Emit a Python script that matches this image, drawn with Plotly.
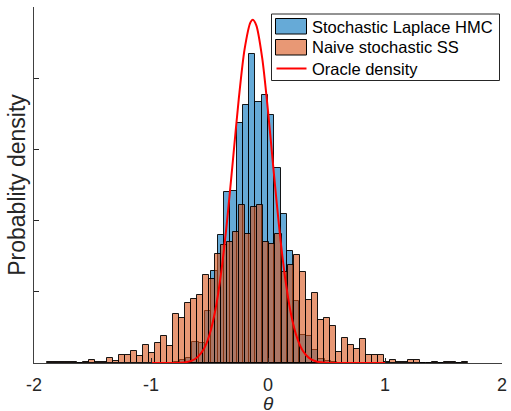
import plotly.graph_objects as go

# ---------------- data ----------------
# Orange histogram: "Naive stochastic SS" (pdf-normalised), 70 bins
ss_bin_start = -1.893
ss_bin_width = 0.0515
ss_density = [
    0.007, 0.007, 0.007, 0.007, 0.007, 0.002, 0.009, 0.019, 0.005, 0.007,
    0.037, 0.016, 0.056, 0.056, 0.084, 0.051, 0.126, 0.070, 0.138, 0.189,
    0.119, 0.344, 0.318, 0.419, 0.449, 0.477, 0.617, 0.589, 0.768, 0.827,
    0.849, 0.919, 1.108, 0.905, 1.098, 1.108, 0.851, 0.835, 0.907, 0.638,
    0.687, 0.759, 0.638, 0.440, 0.491, 0.299, 0.318, 0.259, 0.079, 0.177,
    0.126, 0.100, 0.168, 0.056, 0.056, 0.056, 0.009, 0.021, 0.005, 0.005,
    0.019, 0.019, 0.002, 0.002, 0.007, 0.002, 0.007, 0.007, 0.002, 0.007,
]

# Blue histogram: "Stochastic Laplace HMC" (pdf-normalised), 27 bins
hmc_bin_start = -0.807
hmc_bin_width = 0.0538
hmc_density = [
    0.005, 0.023, 0.034, 0.147, 0.138, 0.368, 0.647, 0.896, 1.199, 1.208,
    1.688, 1.809, 2.170, 1.830, 1.879, 1.739, 1.367, 1.048, 0.785, 0.435,
    0.198, 0.189, 0.091, 0.026, 0.012, 0.005, 0.002,
]

# Red curve: "Oracle density"
oracle_theta = [-1.0, -0.9, -0.8, -0.75, -0.7, -0.65, -0.6, -0.55, -0.5, -0.45,
                -0.4, -0.35, -0.3, -0.25, -0.2, -0.15, -0.13, -0.1, -0.05, 0.0,
                0.05, 0.1, 0.15, 0.2, 0.25, 0.3, 0.35, 0.4, 0.45, 0.5,
                0.6, 0.8, 1.0]
oracle_density = [0.0, 0.0, 0.0, 0.002, 0.006, 0.017, 0.043, 0.096, 0.198, 0.372,
                  0.637, 0.996, 1.422, 1.853, 2.204, 2.392, 2.410, 2.371, 2.144, 1.770,
                  1.334, 0.918, 0.576, 0.330, 0.173, 0.082, 0.036, 0.014, 0.005, 0.002,
                  0.0, 0.0, 0.0]

x_ticks = [-2, -1, 0, 1, 2]
y_ticks = [0, 0.5, 1.0, 1.5, 2.0, 2.5]

names = ["Stochastic Laplace HMC", "Naive stochastic SS", "Oracle density"]

# ---------------- styles ----------------
HMC_FILL = "rgba(0,114,189,0.6)"
SS_FILL = "rgba(217,83,25,0.6)"
EDGE = "rgba(0,0,0,0.9)"
RED = "rgb(255,0,0)"
AX = "#262626"
font_family = "Liberation Sans, Arial, Helvetica, sans-serif"

# plot area in pixels (used for placing the legend box in paper units)
L, R, T, B, W_FIG, H_FIG = 34, 9, 7, 48, 511, 411
PW, PH = W_FIG - L - R, H_FIG - T - B


def px(x):
    return (x - L) / PW


def py(y):
    return (H_FIG - B - y) / PH


# ---------------- figure ----------------
ss_x = [ss_bin_start + ss_bin_width * (i + 0.5) for i in range(len(ss_density))]
hmc_x = [hmc_bin_start + hmc_bin_width * (i + 0.5) for i in range(len(hmc_density))]

fig = go.Figure()
fig.add_trace(go.Bar(
    x=hmc_x, y=hmc_density, width=hmc_bin_width, name=names[0],
    marker=dict(color=HMC_FILL, line=dict(color=EDGE, width=1)),
))
fig.add_trace(go.Bar(
    x=ss_x, y=ss_density, width=ss_bin_width, name=names[1],
    marker=dict(color=SS_FILL, line=dict(color=EDGE, width=1)),
))
fig.add_trace(go.Scatter(
    x=oracle_theta, y=oracle_density, mode="lines", name=names[2],
    line=dict(color=RED, width=2, shape="spline", smoothing=0.8),
))

# MATLAB-style legend box (wide swatches)
shapes = [
    dict(type="rect", xref="paper", yref="paper", x0=px(271.5), x1=px(499.5),
         y0=py(80.5), y1=py(14), line=dict(color=AX, width=1), fillcolor="white", layer="above"),
    dict(type="rect", xref="paper", yref="paper", x0=px(275.5), x1=px(306.5),
         y0=py(34), y1=py(18.5), line=dict(color="black", width=1), fillcolor=HMC_FILL, layer="above"),
    dict(type="rect", xref="paper", yref="paper", x0=px(275.5), x1=px(306.5),
         y0=py(55), y1=py(39.5), line=dict(color="black", width=1), fillcolor=SS_FILL, layer="above"),
    dict(type="line", xref="paper", yref="paper", x0=px(276.5), x1=px(306.5),
         y0=py(68.5), y1=py(68.5), line=dict(color=RED, width=2), layer="above"),
]
annotations = [
    dict(text=names[i], xref="paper", yref="paper", x=px(309.5), y=py(yc),
         xanchor="left", yanchor="middle", showarrow=False,
         font=dict(size=16.5, color="black", family=font_family))
    for i, yc in enumerate([26.5, 47.5, 69])
]
annotations.append(dict(
    text="<i>θ</i>", xref="paper", yref="paper", x=px(268.5), y=py(403.5),
    xanchor="center", yanchor="middle", showarrow=False,
    font=dict(size=19, color=AX, family=font_family),
))

fig.update_layout(
    width=W_FIG, height=H_FIG,
    margin=dict(l=L, r=R, t=T, b=B, autoexpand=False),
    barmode="overlay", bargap=0,
    paper_bgcolor="white", plot_bgcolor="white",
    font=dict(family=font_family, size=16, color=AX),
    showlegend=False,
    shapes=shapes,
    annotations=annotations,
    xaxis=dict(
        range=[-2, 2], tickvals=x_ticks, ticktext=[str(v) for v in x_ticks],
        ticks="inside", ticklen=5, tickcolor=AX,
        showline=True, linecolor="#404040", linewidth=1,
        showgrid=False, zeroline=False, mirror=False,
        tickfont=dict(size=18, color=AX),
        ticklabelstandoff=5,
    ),
    yaxis=dict(
        range=[0, 2.5], tickvals=y_ticks, showticklabels=False,
        ticks="inside", ticklen=5, tickcolor=AX,
        showline=True, linecolor="#404040", linewidth=1,
        showgrid=False, zeroline=False, mirror=False,
        title=dict(text="Probablity density", font=dict(size=23, color=AX), standoff=0),
    ),
)

fig.write_html(
    "out.html",
    config={"displayModeBar": False},
    post_script="document.body.style.margin='0';document.body.style.padding='0';",
)
